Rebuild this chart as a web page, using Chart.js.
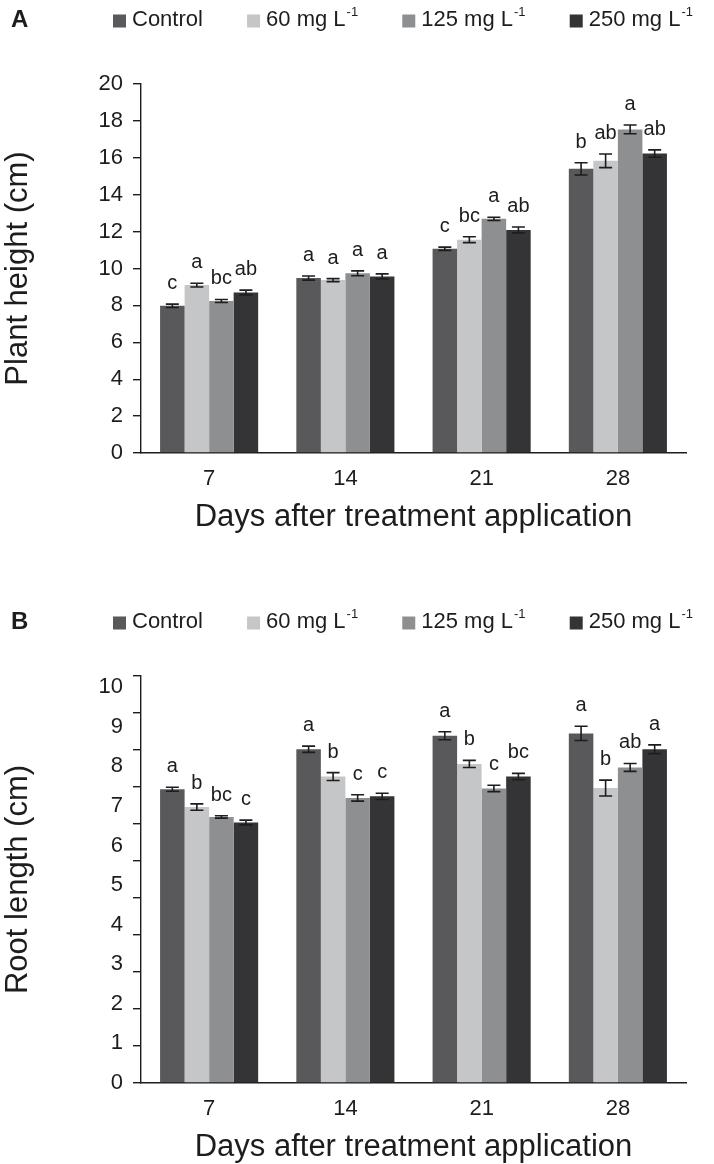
<!DOCTYPE html>
<html>
<head>
<meta charset="utf-8">
<script src="https://cdn.jsdelivr.net/npm/chart.js@4.4.1/dist/chart.umd.min.js"></script>
<style>
  html, body { margin: 0; padding: 0; background: #fff; }
  .panel { position: relative; width: 714px; height: 582px; }
</style>
</head>
<body>
<div class="panel"><canvas id="chartA"></canvas></div>
<div class="panel"><canvas id="chartB"></canvas></div>
<script>
const days = ['7', '14', '21', '28'];
const treatments = ['Control', '60 mg L', '125 mg L', '250 mg L'];
const treatmentSup = ['', '-1', '-1', '-1'];
const colors = ['#59595b', '#c5c6c8', '#8d8f90', '#343336'];

// A - plant height (cm), one array per treatment over the 4 days
const heightControl = [7.98, 9.48, 11.07, 15.40];
const height60 = [9.10, 9.37, 11.56, 15.84];
const height125 = [8.24, 9.74, 12.69, 17.54];
const height250 = [8.70, 9.57, 12.09, 16.23];
const heightErrControl = [0.09, 0.11, 0.09, 0.33];
const heightErr60 = [0.10, 0.08, 0.16, 0.37];
const heightErr125 = [0.08, 0.13, 0.09, 0.24];
const heightErr250 = [0.13, 0.14, 0.16, 0.20];
const heightLettersControl = ['c', 'a', 'c', 'b'];
const heightLetters60 = ['a', 'a', 'bc', 'ab'];
const heightLetters125 = ['bc', 'a', 'a', 'a'];
const heightLetters250 = ['ab', 'a', 'ab', 'ab'];
const heightTicks = { min: 0, max: 20, step: 2 };

// B - root length (cm), read on the printed labels
const rootControl = [7.42, 8.43, 8.77, 8.83];
const root60 = [6.97, 7.74, 8.06, 7.45];
const root125 = [6.72, 7.20, 7.44, 7.97];
const root250 = [6.58, 7.24, 7.74, 8.43];
const rootErrControl = [0.05, 0.08, 0.10, 0.18];
const rootErr60 = [0.08, 0.10, 0.09, 0.20];
const rootErr125 = [0.03, 0.08, 0.08, 0.10];
const rootErr250 = [0.06, 0.08, 0.08, 0.11];
const rootLettersControl = ['a', 'a', 'a', 'a'];
const rootLetters60 = ['b', 'b', 'b', 'b'];
const rootLetters125 = ['bc', 'c', 'c', 'ab'];
const rootLetters250 = ['c', 'c', 'bc', 'a'];
const rootTickLabels = ['0', '1', '2', '3', '4', '5', '6', '7', '8', '9', '10'];
const rootAxisTop = 10.28;   // axis line runs a bit past the "10" label
const rootTickMarks = 11;    // the printed axis has 11 intervals of tick marks

const FONT = '"Liberation Sans", Arial, Helvetica, sans-serif';
const INK = '#1d1d1f';
Chart.defaults.font.family = FONT;
Chart.defaults.color = INK;

function makeDatasets(values, errs, letters) {
  return values.map((v, i) => ({
    label: treatments[i],
    data: v,
    errors: errs[i],
    letters: letters[i],
    backgroundColor: colors[i],
    borderWidth: 0,
    categoryPercentage: 0.72,
    barPercentage: 1.0
  }));
}

// error bars + significance letters
const barExtras = {
  id: 'barExtras',
  afterDatasetsDraw(chart) {
    const ctx = chart.ctx;
    const y = chart.scales.y;
    ctx.save();
    ctx.strokeStyle = INK;
    ctx.lineWidth = 1.6;
    ctx.fillStyle = INK;
    ctx.font = '20px ' + FONT;
    ctx.textAlign = 'center';
    ctx.textBaseline = 'alphabetic';
    chart.data.datasets.forEach((ds, i) => {
      chart.getDatasetMeta(i).data.forEach((bar, j) => {
        const top = y.getPixelForValue(ds.data[j] + ds.errors[j]);
        const bot = y.getPixelForValue(ds.data[j] - ds.errors[j]);
        const cap = 6.5;
        ctx.beginPath();
        ctx.moveTo(bar.x, top); ctx.lineTo(bar.x, bot);
        ctx.moveTo(bar.x - cap, top); ctx.lineTo(bar.x + cap, top);
        ctx.moveTo(bar.x - cap, bot); ctx.lineTo(bar.x + cap, bot);
        ctx.stroke();
        ctx.fillText(ds.letters[j], bar.x, top - 15);
      });
    });
    ctx.restore();
  }
};

// panel letter and legend row
const panelLegend = {
  id: 'panelLegend',
  afterDraw(chart, args, opts) {
    const ctx = chart.ctx;
    const area = chart.chartArea;
    ctx.save();
    ctx.textBaseline = 'middle';
    ctx.textAlign = 'left';
    ctx.fillStyle = INK;
    ctx.font = 'bold 24px ' + FONT;
    ctx.fillText(opts.letter, 11, opts.y);

    const box = 13, gap = 6;
    const mainFont = '22px ' + FONT, supFont = '13px ' + FONT;
    const items = chart.data.datasets.map((ds, i) => {
      ctx.font = mainFont;
      const w1 = ctx.measureText(ds.label).width;
      ctx.font = supFont;
      const w2 = treatmentSup[i] ? ctx.measureText(treatmentSup[i]).width + 1 : 0;
      return { ds, i, w1, w2, w: box + gap + w1 + w2 };
    });
    const startX = area.left - 28, endX = area.right + 7;
    const total = items.reduce((s, it) => s + it.w, 0);
    const spacing = (endX - startX - total) / (items.length - 1);
    let x = startX;
    items.forEach(it => {
      ctx.fillStyle = it.ds.backgroundColor;
      ctx.fillRect(x, opts.y - box / 2 + 1, box, box);
      ctx.fillStyle = INK;
      ctx.font = mainFont;
      ctx.fillText(it.ds.label, x + box + gap, opts.y);
      if (treatmentSup[it.i]) {
        ctx.font = supFont;
        ctx.fillText(treatmentSup[it.i], x + box + gap + it.w1 + 1, opts.y - 8);
      }
      x += it.w + spacing;
    });
    ctx.restore();
  }
};

// printed labels of the root length axis (they do not sit on the tick marks)
const rootAxisLabels = {
  id: 'rootAxisLabels',
  afterDraw(chart, args, opts) {
    if (!opts.labels) return;
    const ctx = chart.ctx;
    const y = chart.scales.y;
    ctx.save();
    ctx.fillStyle = INK;
    ctx.font = '22px ' + FONT;
    ctx.textAlign = 'right';
    ctx.textBaseline = 'middle';
    opts.labels.forEach((lab, i) => {
      ctx.fillText(lab, y.right - 18, y.getPixelForValue(i));
    });
    ctx.restore();
  }
};

function xAxis() {
  return {
    grid: { display: false, drawTicks: false },
    border: { display: true, color: INK, width: 1.4 },
    ticks: { font: { size: 22 }, color: INK, padding: 13 },
    title: {
      display: true, text: 'Days after treatment application', color: INK,
      font: { size: 31, lineHeight: 1 }, padding: { top: 0, bottom: 0 }
    },
    afterFit(s) { s.height = 80; }
  };
}

function yTitle(text) {
  return { display: true, text: text, color: INK, font: { size: 31, lineHeight: 1 }, padding: { top: 3, bottom: 0 } };
}

function baseOptions(pad) {
  return {
    responsive: true,
    maintainAspectRatio: false,
    animation: false,
    devicePixelRatio: 1,
    layout: { padding: pad },
    plugins: { legend: { display: false }, tooltip: { enabled: false } }
  };
}

// Panel A
const optsA = baseOptions({ top: 84, left: 0, right: 28, bottom: 49 });
optsA.plugins.panelLegend = { letter: 'A', y: 20 };
optsA.scales = {
  x: xAxis(),
  y: {
    min: heightTicks.min, max: heightTicks.max,
    ticks: { stepSize: heightTicks.step, font: { size: 22 }, color: INK, padding: 10 },
    grid: { drawOnChartArea: false, drawTicks: true, tickLength: 8, color: INK, lineWidth: 1.4 },
    border: { display: true, color: INK, width: 1.4 },
    title: yTitle('Plant height (cm)'),
    afterFit(s) { s.width = 141; }
  }
};
new Chart(document.getElementById('chartA'), {
  type: 'bar',
  data: {
    labels: days,
    datasets: makeDatasets([heightControl, height60, height125, height250],
      [heightErrControl, heightErr60, heightErr125, heightErr250],
      [heightLettersControl, heightLetters60, heightLetters125, heightLetters250])
  },
  options: optsA,
  plugins: [barExtras, panelLegend]
});

// Panel B
const optsB = baseOptions({ top: 94, left: 0, right: 28, bottom: 1 });
optsB.plugins.panelLegend = { letter: 'B', y: 40 };
optsB.plugins.rootAxisLabels = { labels: rootTickLabels };
optsB.scales = {
  x: xAxis(),
  y: {
    min: 0, max: rootAxisTop,
    afterBuildTicks(s) {
      const t = [];
      for (let k = 0; k <= rootTickMarks; k++) t.push({ value: k * rootAxisTop / rootTickMarks });
      s.ticks = t;
    },
    ticks: { display: false },
    grid: { drawOnChartArea: false, drawTicks: true, tickLength: 8, color: INK, lineWidth: 1.4 },
    border: { display: true, color: INK, width: 1.4 },
    title: yTitle('Root length (cm)'),
    afterFit(s) { s.width = 141; }
  }
};
new Chart(document.getElementById('chartB'), {
  type: 'bar',
  data: {
    labels: days,
    datasets: makeDatasets([rootControl, root60, root125, root250],
      [rootErrControl, rootErr60, rootErr125, rootErr250],
      [rootLettersControl, rootLetters60, rootLetters125, rootLetters250])
  },
  options: optsB,
  plugins: [barExtras, panelLegend, rootAxisLabels]
});
</script>
</body>
</html>
